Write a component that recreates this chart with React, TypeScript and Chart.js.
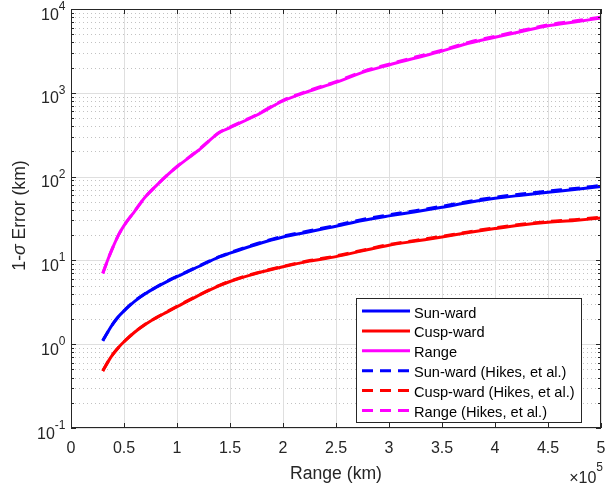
import React, { useEffect, useRef } from 'react';
import { Chart, registerables } from 'chart.js';

Chart.register(...registerables);

// ---- Data (range in km) ----
const rangeKm = [30000, 35000, 40000, 45000, 50000, 60000, 70000, 80000, 90000, 100000, 120000, 140000, 150000, 175000, 200000, 225000, 250000, 275000, 300000, 325000, 350000, 375000, 400000, 425000, 450000, 475000, 500000];
const sunward = [1.1, 1.42, 1.78, 2.15, 2.5, 3.25, 4.0, 4.75, 5.55, 6.4, 8.4, 11.0, 12.2, 15.5, 19, 22, 25.5, 30, 34, 38, 43, 49, 55, 60, 65, 70, 76];
const cuspward = [0.48, 0.62, 0.77, 0.92, 1.07, 1.39, 1.72, 2.05, 2.4, 2.8, 3.8, 5.0, 5.6, 7.0, 8.4, 9.8, 11.1, 13, 15.2, 17, 19, 21.5, 24, 26.5, 28.5, 30, 32];
const rangeErr = [7.0, 10.4, 14.8, 20.3, 26, 38.5, 57, 77, 102, 131, 205, 335, 385, 540, 800, 1050, 1330, 1750, 2150, 2600, 3150, 3900, 4600, 5400, 6300, 7000, 7800];
const sunwardHikes = [1.1, 1.42, 1.78, 2.15, 2.51, 3.27, 4.03, 4.78, 5.6, 6.45, 8.5, 11.1, 12.35, 15.8, 19.4, 22.6, 26.2, 30.8, 35.0, 39.2, 44.3, 50.5, 56.7, 61.8, 67, 72.2, 78.3];
const cuspwardHikes = [0.48, 0.62, 0.77, 0.92, 1.07, 1.39, 1.73, 2.06, 2.42, 2.83, 3.83, 5.05, 5.65, 7.08, 8.5, 9.95, 11.3, 13.2, 15.5, 17.3, 19.4, 21.9, 24.5, 27, 29.1, 30.6, 32.7];
const rangeHikes = [7.0, 10.4, 14.8, 20.3, 26, 38.5, 57, 77, 102, 132, 207, 338, 390, 548, 815, 1070, 1360, 1790, 2200, 2670, 3230, 4000, 4720, 5540, 6460, 7180, 8000];

const seriesLabels = ['Sun-ward', 'Cusp-ward', 'Range', 'Sun-ward (Hikes, et al.)', 'Cusp-ward (Hikes, et al.)', 'Range (Hikes, et al.)'];
const seriesColors = ['#0000FF', '#FF0000', '#FF00FF', '#0000FF', '#FF0000', '#FF00FF'];

const xTickValues = [0, 50000, 100000, 150000, 200000, 250000, 300000, 350000, 400000, 450000, 500000];
const xTickLabels = ['0', '0.5', '1', '1.5', '2', '2.5', '3', '3.5', '4', '4.5', '5'];
const yDecades = [-1, 0, 1, 2, 3, 4];
const xTitle = 'Range (km)';
const yTitleParts = ['1-', 'σ', ' Error (km)'];
const xExponent = '5';

const FONT = '"Liberation Sans", Arial, Helvetica, sans-serif';
const AX = '#262626';
const DASH = [11, 7];

const matlabPlugin = {
  id: 'matlabAxes',
  beforeDatasetsDraw(chart: any) {
    const { ctx, chartArea: a, scales } = chart;
    const xs = scales.x, ys = scales.y;
    ctx.save();
    ctx.lineWidth = 1;
    // minor y grid (dotted)
    ctx.strokeStyle = '#c2c2c2';
    ctx.setLineDash([1, 3]);
    for (let d = -1; d < 4; d++) {
      for (let m = 2; m <= 9; m++) {
        const py = Math.round(ys.getPixelForValue(m * Math.pow(10, d))) + 0.5;
        ctx.beginPath();
        ctx.moveTo(a.left, py);
        ctx.lineTo(a.right, py);
        ctx.stroke();
      }
    }
    // major grid
    ctx.setLineDash([]);
    ctx.strokeStyle = '#dfdfdf';
    xTickValues.forEach((v) => {
      const px = Math.round(xs.getPixelForValue(v)) + 0.5;
      ctx.beginPath();
      ctx.moveTo(px, a.top);
      ctx.lineTo(px, a.bottom);
      ctx.stroke();
    });
    yDecades.forEach((d) => {
      const py = Math.round(ys.getPixelForValue(Math.pow(10, d))) + 0.5;
      ctx.beginPath();
      ctx.moveTo(a.left, py);
      ctx.lineTo(a.right, py);
      ctx.stroke();
    });
    ctx.restore();
  },
  afterDraw(chart: any) {
    const { ctx, chartArea: a, scales } = chart;
    const xs = scales.x, ys = scales.y;
    ctx.save();
    ctx.lineWidth = 1;
    ctx.strokeStyle = AX;
    ctx.setLineDash([]);
    // box
    ctx.strokeRect(a.left + 0.5, a.top + 0.5, a.right - a.left - 1, a.bottom - a.top - 1);
    // x ticks
    ctx.beginPath();
    xTickValues.forEach((v) => {
      const px = Math.round(xs.getPixelForValue(v)) + 0.5;
      ctx.moveTo(px, a.bottom);
      ctx.lineTo(px, a.bottom - 5);
      ctx.moveTo(px, a.top);
      ctx.lineTo(px, a.top + 5);
    });
    // y ticks
    for (let d = -1; d <= 4; d++) {
      const py = Math.round(ys.getPixelForValue(Math.pow(10, d))) + 0.5;
      ctx.moveTo(a.left, py);
      ctx.lineTo(a.left + 5, py);
      ctx.moveTo(a.right, py);
      ctx.lineTo(a.right - 5, py);
      if (d < 4) {
        for (let m = 2; m <= 9; m++) {
          const pm = Math.round(ys.getPixelForValue(m * Math.pow(10, d))) + 0.5;
          ctx.moveTo(a.left, pm);
          ctx.lineTo(a.left + 3, pm);
          ctx.moveTo(a.right, pm);
          ctx.lineTo(a.right - 3, pm);
        }
      }
    }
    ctx.stroke();

    ctx.fillStyle = AX;
    // x tick labels
    ctx.font = `16px ${FONT}`;
    ctx.textAlign = 'center';
    ctx.textBaseline = 'alphabetic';
    xTickValues.forEach((v, i) => {
      const px = xs.getPixelForValue(v);
      ctx.fillText(xTickLabels[i], px, 453);
    });
    // y tick labels 10^d
    ctx.textAlign = 'left';
    const R = 65.5;
    yDecades.forEach((d) => {
      const py = ys.getPixelForValue(Math.pow(10, d));
      const ex = String(d);
      ctx.font = `12px ${FONT}`;
      const ew = ctx.measureText(ex).width;
      ctx.font = `16px ${FONT}`;
      const mw = ctx.measureText('10').width;
      ctx.fillText('10', R - ew - mw, py + 10.5);
      ctx.font = `12px ${FONT}`;
      ctx.fillText(ex, R - ew, py + 1);
    });
    // x exponent ×10^5
    ctx.font = `12px ${FONT}`;
    const w5 = ctx.measureText(xExponent).width;
    ctx.fillText(xExponent, 603 - w5, 471);
    ctx.font = `16px ${FONT}`;
    const wx = ctx.measureText('×10').width;
    ctx.fillText('×10', 603 - w5 - wx, 483);

    // axis titles
    ctx.font = `17.6px ${FONT}`;
    ctx.textAlign = 'center';
    ctx.fillText(xTitle, (a.left + a.right) / 2, 479);
    // y title rotated
    ctx.save();
    ctx.translate(25, 215.5);
    ctx.rotate(-Math.PI / 2);
    ctx.textAlign = 'left';
    const fonts = [`17.6px ${FONT}`, `italic 17.6px ${FONT}`, `17.6px ${FONT}`];
    let total = 0;
    const widths = yTitleParts.map((p, i) => {
      ctx.font = fonts[i];
      const w = ctx.measureText(p).width;
      total += w;
      return w;
    });
    let cx = -total / 2;
    yTitleParts.forEach((p, i) => {
      ctx.font = fonts[i];
      ctx.fillText(p, cx, 0);
      cx += widths[i];
    });
    ctx.restore();

    // legend
    const lx = 356, ly = 298, lw = 226, lh = 125;
    ctx.fillStyle = '#ffffff';
    ctx.fillRect(lx, ly, lw, lh);
    ctx.strokeStyle = AX;
    ctx.lineWidth = 1;
    ctx.strokeRect(lx + 0.5, ly + 0.5, lw - 1, lh - 1);
    ctx.font = `14.6px ${FONT}`;
    ctx.textAlign = 'left';
    chart.data.datasets.forEach((ds: any, i: number) => {
      const yy = 311 + 19.9 * i;
      ctx.save();
      ctx.strokeStyle = ds.borderColor;
      ctx.lineWidth = 3;
      ctx.setLineDash(ds.borderDash || []);
      ctx.beginPath();
      ctx.moveTo(362, yy);
      ctx.lineTo(410, yy);
      ctx.stroke();
      ctx.restore();
      ctx.fillStyle = '#000000';
      ctx.fillText(ds.label, 414, yy + 6.5);
    });
    ctx.restore();
  },
};

export default function App() {
  const ref = useRef<HTMLCanvasElement | null>(null);
  useEffect(() => {
    if (!ref.current) return;
    const series = [sunward, cuspward, rangeErr, sunwardHikes, cuspwardHikes, rangeHikes];
    const datasets = series.map((vals, i) => ({
      label: seriesLabels[i],
      data: vals.map((v, j) => ({ x: rangeKm[j], y: v })),
      borderColor: seriesColors[i],
      backgroundColor: seriesColors[i],
      borderWidth: 3,
      borderDash: i >= 3 ? DASH : [],
      pointRadius: 0,
      cubicInterpolationMode: 'monotone' as const,
      fill: false,
      order: i >= 3 ? 0 : 1,
    }));
    const chart = new Chart(ref.current, {
      type: 'line',
      data: { datasets },
      options: {
        animation: false,
        responsive: false,
        layout: { padding: { left: 71, right: 8, top: 9, bottom: 59 } },
        plugins: { legend: { display: false }, tooltip: { enabled: false } },
        scales: {
          x: { type: 'linear', min: 0, max: 500000, display: false },
          y: { type: 'logarithmic', min: 0.1, max: 10000, display: false },
        },
      },
      plugins: [matlabPlugin],
    });
    return () => chart.destroy();
  }, []);
  return (
    <div style={{ position: 'fixed', left: 0, top: 0, width: 609, height: 487, background: '#fff' }}>
      <canvas ref={ref} width={609} height={487} style={{ display: 'block', width: 609, height: 487 }} />
    </div>
  );
}
